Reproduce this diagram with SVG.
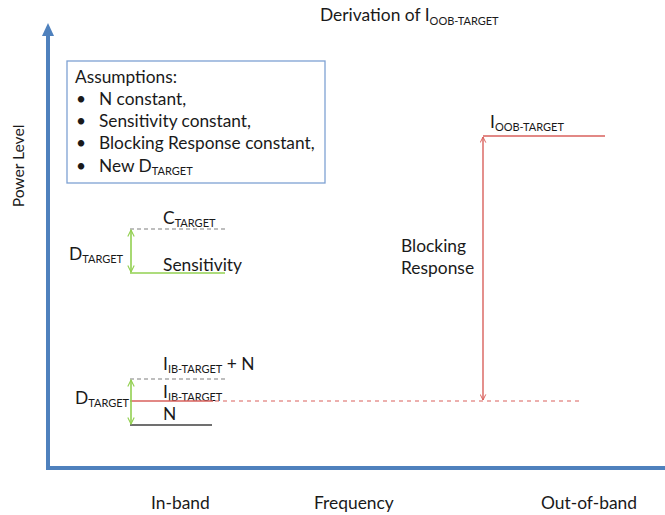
<svg xmlns="http://www.w3.org/2000/svg" width="665" height="515" viewBox="0 0 665 515">
<style>
text{font-family:Lato,"Open Sans","Liberation Sans",sans-serif;fill:#1a1a1a}
.t16{font-size:17.3px}
.t15{font-size:17.4px}
.pl{font-size:15.6px}
.sub{font-size:11px}
.axis{stroke:#4f81bd;stroke-width:4;fill:none}
.red{stroke:#d9605c;stroke-width:1.4;fill:none}
.redd{stroke:#d9605c;stroke-width:1.2;stroke-dasharray:4 4;fill:none}
.grn{stroke:#92d050;stroke-width:1.6;fill:none}
.gryd{stroke:#7f7f7f;stroke-width:1.2;stroke-dasharray:4 3;fill:none}
.blk{stroke:#404040;stroke-width:1.4;fill:none}
</style>
<defs>
<marker id="ar" viewBox="0 0 10 10" refX="9" refY="5" markerWidth="7" markerHeight="7" orient="auto-start-reverse" markerUnits="userSpaceOnUse">
<path d="M1,1 L9,5 L1,9" fill="none" stroke="#d9605c" stroke-width="1.4"/>
</marker>
<marker id="ag" viewBox="0 0 10 10" refX="9" refY="5" markerWidth="8" markerHeight="8" orient="auto-start-reverse" markerUnits="userSpaceOnUse">
<path d="M1,1 L9,5 L1,9" fill="none" stroke="#92d050" stroke-width="1.4"/>
</marker>
</defs>
<g id="axes">
<line class="axis" x1="48" y1="468" x2="48" y2="34"/>
<polygon points="48,23 42,36 54,36" fill="#4f81bd"/>
<line class="axis" x1="46" y1="468" x2="665" y2="468"/>
<text class="pl" transform="translate(24,166) rotate(-90)" text-anchor="middle">Power Level</text>
<text class="t15" x="151" y="509">In-band</text>
<text class="t15" x="314" y="509">Frequency</text>
<text class="t15" x="541" y="509">Out-of-band</text>
</g>
<g id="title">
<text class="t15" x="320" y="21">Derivation of I<tspan class="sub" dy="4">OOB-TARGET</tspan></text>
</g>
<g id="assumptions">
<rect x="67" y="61" width="258" height="122" fill="#fff" stroke="#7ea1d3" stroke-width="1.3"/>
<text class="t16" x="75" y="83">Assumptions:</text>
<text class="t16" x="76" y="105">•</text>
<text class="t16" x="99" y="105">N constant,</text>
<text class="t16" x="76" y="127">•</text>
<text class="t16" x="99" y="127">Sensitivity constant,</text>
<text class="t16" x="76" y="149">•</text>
<text class="t16" x="99" y="149">Blocking Response constant,</text>
<text class="t16" x="76" y="172">•</text>
<text class="t16" x="99" y="172">New D<tspan class="sub" dy="3">TARGET</tspan></text>
</g>
<g id="upper-levels">
<text class="t15" x="163" y="224">C<tspan class="sub" dy="3">TARGET</tspan></text>
<text class="t15" x="69" y="260">D<tspan class="sub" dy="3">TARGET</tspan></text>
<text class="t15" x="163" y="271">Sensitivity</text>
</g>
<g id="lower-levels">
<text class="t15" x="163" y="370">I<tspan class="sub" dy="3">IB-TARGET</tspan><tspan dy="-3"> + N</tspan></text>
<text class="t15" x="163" y="398">I<tspan class="sub" dy="3">IB-TARGET</tspan></text>
<text class="t15" x="75" y="404">D<tspan class="sub" dy="3">TARGET</tspan></text>
<text class="t15" x="163" y="420">N</text>
</g>
<g id="oob">
<text class="t15" x="490" y="128">I<tspan class="sub" dy="3">OOB-TARGET</tspan></text>
<text class="t15" x="401" y="252">Blocking</text>
<text class="t15" x="401" y="274">Response</text>
</g>
<g id="connectors">
<line class="gryd" x1="130" y1="229" x2="225" y2="229"/>
<line class="grn" x1="130" y1="273" x2="225" y2="273"/>
<line class="grn" x1="131" y1="230" x2="131" y2="272" marker-start="url(#ag)" marker-end="url(#ag)"/>
<line class="gryd" x1="130" y1="379" x2="225" y2="379"/>
<line class="red" x1="130" y1="401" x2="213" y2="401"/>
<line class="redd" x1="215" y1="401" x2="582" y2="401"/>
<line class="blk" x1="130" y1="425" x2="212" y2="425"/>
<line class="grn" x1="131" y1="380" x2="131" y2="424" marker-start="url(#ag)" marker-end="url(#ag)"/>
<line class="red" x1="483" y1="136" x2="605" y2="136"/>
<line class="red" x1="483" y1="137" x2="483" y2="400" marker-start="url(#ar)" marker-end="url(#ar)"/>
</g>
</svg>
